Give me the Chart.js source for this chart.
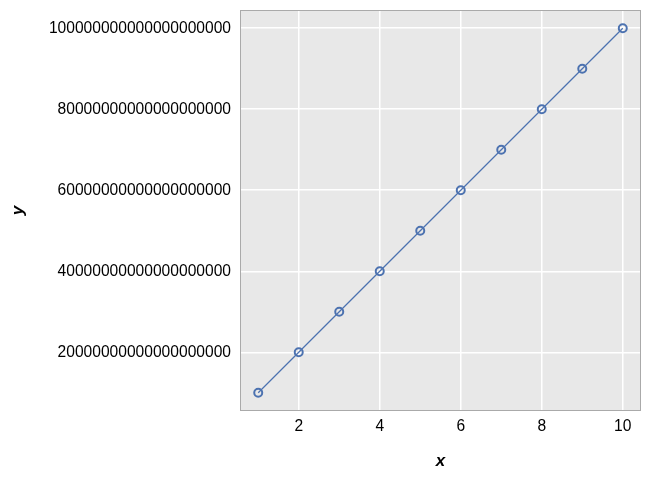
<!DOCTYPE html>
<html><head><meta charset="utf-8">
<script src="https://cdn.jsdelivr.net/npm/chart.js@4/dist/chart.umd.min.js"></script>
<style>html,body{margin:0;padding:0;background:#fff;}#wrap{width:651px;height:482px;}</style>
</head><body><div id="wrap"><canvas id="c" width="651" height="482"></canvas></div>
<script>
const xValues = [1, 2, 3, 4, 5, 6, 7, 8, 9, 10];
const yValues = [1e19, 2e19, 3e19, 4e19, 5e19, 6e19, 7e19, 8e19, 9e19, 1e20];
const xTicks = [2, 4, 6, 8, 10];
const yTicks = [2e19, 4e19, 6e19, 8e19, 1e20];
const yTickLabels = ['20000000000000000000', '40000000000000000000', '60000000000000000000', '80000000000000000000', '100000000000000000000'];

const FONT = "'Liberation Sans', Arial, sans-serif";
const bgPlugin = {
  id: 'bg',
  beforeDraw(chart) {
    const {ctx, chartArea: a} = chart;
    ctx.save();
    ctx.fillStyle = '#e8e8e8';
    ctx.fillRect(a.left, a.top, a.right - a.left, a.bottom - a.top);
    ctx.restore();
  },
  afterDraw(chart) {
    const {ctx, chartArea: a} = chart;
    ctx.save();
    ctx.strokeStyle = '#aaaaaa';
    ctx.lineWidth = 1;
    ctx.strokeRect(a.left + 0.5, a.top + 0.5, a.right - a.left - 1, a.bottom - a.top - 1);
    ctx.restore();
  }
};

new Chart(document.getElementById('c'), {
  type: 'line',
  data: {
    datasets: [{
      data: xValues.map((x, i) => ({x: x, y: yValues[i]})),
      borderColor: '#4c72b0',
      borderWidth: 1.3,
      pointRadius: 4,
      pointBorderWidth: 2,
      pointBackgroundColor: 'rgba(0,0,0,0)',
      pointBorderColor: '#4c72b0',
      tension: 0
    }]
  },
  plugins: [bgPlugin],
  options: {
    responsive: false,
    animation: false,
    layout: {padding: {left: 0, right: 10, top: 10, bottom: 0}},
    plugins: {legend: {display: false}, tooltip: {enabled: false}},
    scales: {
      x: {
        type: 'linear',
        min: 0.55, max: 10.45,
        afterBuildTicks: s => { s.ticks = xTicks.map(v => ({value: v})); },
        afterFit: s => { s.height = 71; s.paddingLeft = 0; s.paddingRight = 0; },
        grid: {color: '#ffffff', lineWidth: 1.5, drawTicks: false},
        border: {display: false},
        ticks: {color: '#000', font: {family: FONT, size: 15.6}, padding: 6, maxRotation: 0,
          callback: v => String(v)},
        title: {display: true, text: 'x', color: '#000', font: {family: FONT, size: 17, weight: 'bold', style: 'italic'}, padding: {top: 4, bottom: 10}}
      },
      y: {
        type: 'linear',
        min: 0.55e19, max: 10.45e19,
        afterBuildTicks: s => { s.ticks = yTicks.map(v => ({value: v})); },
        afterFit: s => { s.width = 240; s.paddingTop = 0; s.paddingBottom = 0; },
        grid: {color: '#ffffff', lineWidth: 1.5, drawTicks: false},
        border: {display: false},
        ticks: {color: '#000', font: {family: FONT, size: 15.6}, padding: 9,
          callback: (v, i) => yTickLabels[i]},
        title: {display: true, text: 'y', color: '#000', font: {family: FONT, size: 17, weight: 'bold', style: 'italic'}, padding: {top: 8, bottom: 0}}
      }
    }
  }
});
</script></body></html>
